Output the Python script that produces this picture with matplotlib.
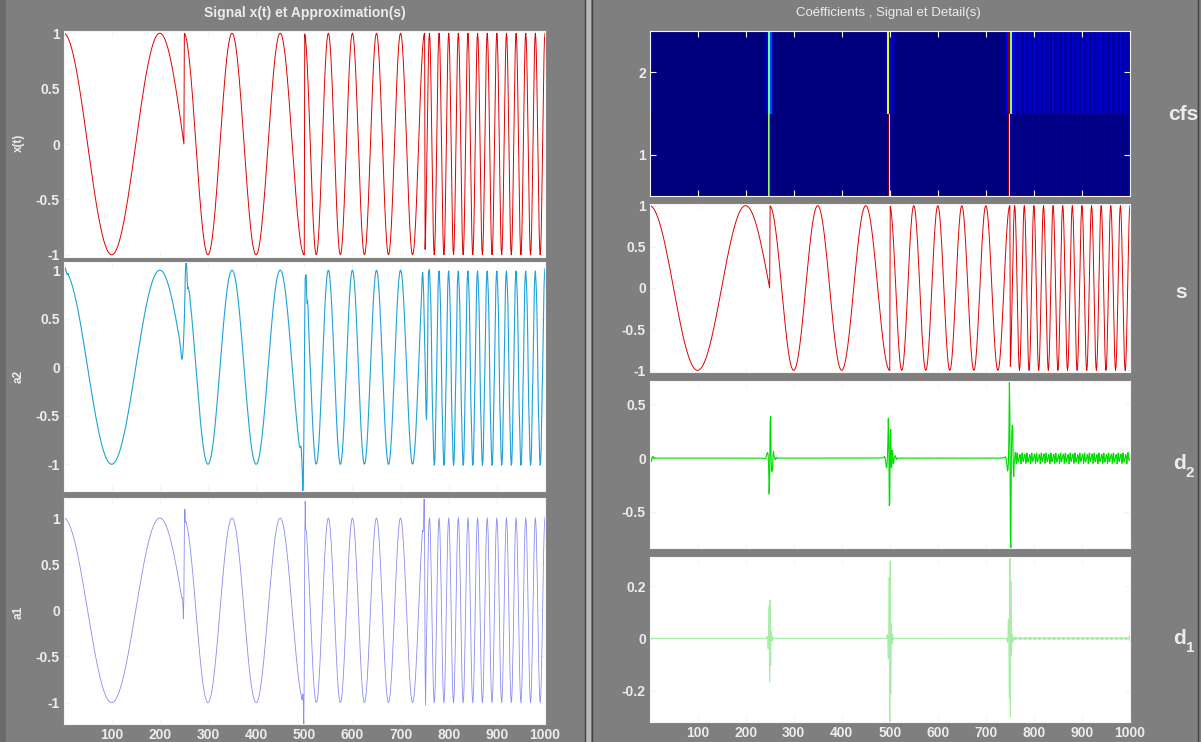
import numpy as np
import matplotlib
matplotlib.use("Agg")
import matplotlib.pyplot as plt
from matplotlib.lines import Line2D
from matplotlib.patches import Rectangle

# ---------------- data ----------------
n_samples = 1000
seg_start = [1, 251, 501, 751]          # first sample of each segment
seg_end = [250, 500, 750, 1000]         # last sample of each segment
seg_period = [200, 100, 50, 20]         # period (samples) of each cosine piece
seg_first_peak = [0, 250, 500, 760]     # position of a crest of each piece

x_ticks = [100, 200, 300, 400, 500, 600, 700, 800, 900, 1000]
x_tick_labels = ["100", "200", "300", "400", "500", "600", "700", "800", "900", "1000"]
sig_ticks = [-1, -0.5, 0, 0.5, 1]
sig_tick_labels = ["-1", "-0.5", "0", "0.5", "1"]
d2_ticks = [-0.5, 0, 0.5]
d2_tick_labels = ["-0.5", "0", "0.5"]
d1_ticks = [-0.2, 0, 0.2]
d1_tick_labels = ["-0.2", "0", "0.2"]
cfs_ticks = [1, 2]
cfs_tick_labels = ["1", "2"]

# Daubechies-4 reconstruction low-pass filter (wavelet of the 2-level decomposition)
db4_rec_lo = np.array([0.23037781330885523, 0.7148465705525415, 0.6308807679295904,
                       -0.02798376941698385, -0.18703481171888114, 0.030841381835986965,
                       0.032883011666982945, -0.010597401784997278])
grid_offset = 3   # alignment of the dyadic grid with the samples

# ---------------- signal and decomposition ----------------
t = np.arange(1, n_samples + 1)
x = np.zeros(n_samples)
for s0, s1, p, pk in zip(seg_start, seg_end, seg_period, seg_first_peak):
    m = (t >= s0) & (t <= s1)
    x[m] = np.cos(2 * np.pi * (t[m] - pk) / p)

lo = db4_rec_lo
L = len(lo)
hi = np.array([(-1) ** k * lo[L - 1 - k] for k in range(L)])


def dwt_per(sig):
    N = len(sig)
    idx = (2 * np.arange(N // 2)[:, None] + np.arange(L)[None, :]) % N
    return (sig[idx] * lo).sum(1), (sig[idx] * hi).sum(1)


def idwt_per(a, d):
    N = 2 * len(a)
    out = np.zeros(N)
    idx = (2 * np.arange(len(a))[:, None] + np.arange(L)[None, :]) % N
    np.add.at(out, idx, a[:, None] * lo[None, :] + d[:, None] * hi[None, :])
    return out


xs = np.roll(x, grid_offset)
ca1, cd1 = dwt_per(xs)
ca2, cd2 = dwt_per(ca1)
z1 = np.zeros_like(cd1)
z2 = np.zeros_like(cd2)
A1 = np.roll(idwt_per(ca1, z1), -grid_offset)
D1 = np.roll(idwt_per(z1, cd1), -grid_offset)
A2 = np.roll(idwt_per(idwt_per(ca2, z2), z1), -grid_offset)
D2 = np.roll(idwt_per(idwt_per(z2, cd2), z1), -grid_offset)

# coefficient image (row-wise scaled absolute values)
row1 = np.repeat(np.abs(cd1), 2)
row2 = np.roll(np.repeat(np.abs(cd2), 4), 6)
cfs_img = np.vstack([row1 / row1.max(), row2 / row2.max()])

# ---------------- figure ----------------
W, H = 1201, 742
bg = "#7f7f7f"
fig = plt.figure(figsize=(W / 100, H / 100), dpi=100, facecolor=bg)
plt.rcParams["font.family"] = ["Liberation Sans", "DejaVu Sans"]
tick_col = "#ececec"


def box(px_left, px_top, px_right, px_bottom):
    return [px_left / W, 1 - px_bottom / H, (px_right - px_left) / W, (px_bottom - px_top) / H]


def style(ax, yt, ytl, show_x):
    ax.set_facecolor("white")
    for sp in ax.spines.values():
        sp.set_color("#f4f4f4")
        sp.set_linewidth(0.8)
    ax.set_xlim(1, n_samples)
    ax.set_xticks(x_ticks)
    ax.set_yticks(yt)
    ax.set_yticklabels(ytl)
    if show_x:
        ax.set_xticklabels(x_tick_labels)
    else:
        ax.set_xticklabels([])
    ax.tick_params(direction="in", length=4, width=0.8, color="#f4f4f4",
                   labelcolor=tick_col, labelsize=10, top=True, right=True, pad=3)
    for lab in ax.get_xticklabels() + ax.get_yticklabels():
        lab.set_fontweight("bold")


def lims(ax, data):
    ax.set_ylim(data.min(), data.max())


# left column
ax_x = fig.add_axes(box(64, 31, 545, 257))
ax_x.plot(t, x, color="#e00000", lw=0.7)
ax_x.set_ylim(-1.02, 1.02)
style(ax_x, sig_ticks, sig_tick_labels, False)

ax_a2 = fig.add_axes(box(64, 262, 545, 491))
ax_a2.plot(t, A2, color="#1ea2d8", lw=0.8)
lims(ax_a2, A2)
style(ax_a2, sig_ticks, sig_tick_labels, False)

ax_a1 = fig.add_axes(box(64, 498, 545, 724))
ax_a1.plot(t, A1, color="#8a8cf0", lw=0.6)
lims(ax_a1, A1)
style(ax_a1, sig_ticks, sig_tick_labels, True)

# right column
ax_c = fig.add_axes(box(650, 31, 1130, 196))
ax_c.imshow(cfs_img, cmap="jet", aspect="auto", origin="lower",
            extent=[0.5, n_samples + 0.5, 0.5, 2.5], interpolation="nearest", vmin=0, vmax=1)
style(ax_c, cfs_ticks, cfs_tick_labels, False)
ax_c.set_ylim(0.5, 2.5)

ax_s = fig.add_axes(box(650, 204, 1130, 372))
ax_s.plot(t, x, color="#e00000", lw=0.7)
ax_s.set_ylim(-1.02, 1.02)
style(ax_s, sig_ticks, sig_tick_labels, False)

ax_d2 = fig.add_axes(box(650, 381, 1130, 548))
ax_d2.plot(t, D2, color="#00dd00", lw=0.8)
lims(ax_d2, D2)
style(ax_d2, d2_ticks, d2_tick_labels, False)

ax_d1 = fig.add_axes(box(650, 557, 1130, 722))
ax_d1.plot(t, D1, color="#a6eea6", lw=0.8)
lims(ax_d1, D1)
style(ax_d1, d1_ticks, d1_tick_labels, True)

# titles
fig.text(305 / W, 1 - 13 / H, "Signal x(t) et Approximation(s)", ha="center", va="center",
         color=tick_col, fontsize=10, fontweight="bold")
fig.text(888 / W, 1 - 13 / H, "Coéfficients , Signal et Detail(s)", ha="center", va="center",
         color=tick_col, fontsize=9.5)

# left y labels (rotated)
for lab, yc in [("x(t)", 143), ("a2", 376), ("a1", 612)]:
    fig.text(19 / W, 1 - yc / H, lab, rotation=90, ha="center", va="center",
             color=tick_col, fontsize=8.5, fontweight="bold")

# right labels
fig.text(1183 / W, 1 - 114 / H, "cfs", ha="center", va="center", color=tick_col,
         fontsize=15, fontweight="bold")
fig.text(1181 / W, 1 - 292 / H, "s", ha="center", va="center", color=tick_col,
         fontsize=15, fontweight="bold")
for main, sub, yc in [("d", "2", 463), ("d", "1", 638)]:
    fig.text(1179 / W, 1 - yc / H, main, ha="center", va="center", color=tick_col,
             fontsize=15, fontweight="bold")
    fig.text(1190 / W, 1 - (yc + 10) / H, sub, ha="center", va="center", color=tick_col,
             fontsize=11, fontweight="bold")


# frame decorations
def vline(px, col, lw):
    fig.add_artist(Line2D([px / W, px / W], [0, 1], color=col, lw=lw, transform=fig.transFigure))


fig.add_artist(Rectangle((0, 0), 6 / W, 1, transform=fig.transFigure, color="#6a6a6a", lw=0))
fig.add_artist(Rectangle((585 / W, 0), 6 / W, 1, transform=fig.transFigure, color="#b8b8b8", lw=0))
vline(584.5, "#404040", 1.0)
vline(591.5, "#404040", 1.0)
vline(1197.5, "#404040", 1.0)

fig.savefig("out.png", dpi=100, facecolor=bg)
